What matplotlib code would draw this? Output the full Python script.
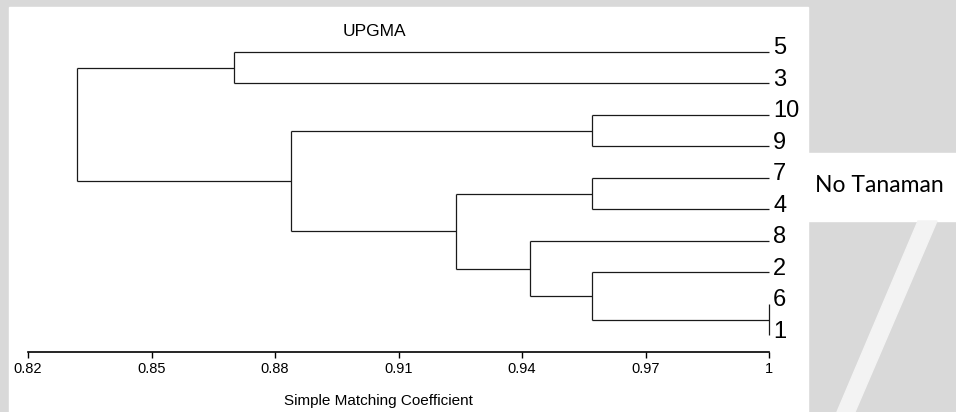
import matplotlib
matplotlib.use("Agg")
import matplotlib.pyplot as plt
from matplotlib.patches import Rectangle, Polygon

# leaves, top to bottom
leaves = ['5', '3', '10', '9', '7', '4', '8', '2', '6', '1']
# UPGMA merges: (left, right, similarity); clusters named by their members
merges = [
    ('6', '1', 1.000),
    ('2', '6+1', 0.957),
    ('8', '2+6+1', 0.942),
    ('7', '4', 0.957),
    ('7+4', '8+2+6+1', 0.924),
    ('10', '9', 0.957),
    ('10+9', '7+4+8+2+6+1', 0.884),
    ('5', '3', 0.870),
    ('5+3', '10+9+7+4+8+2+6+1', 0.832),
]
ticks = [0.82, 0.85, 0.88, 0.91, 0.94, 0.97, 1.0]
tick_labels = ['0.82', '0.85', '0.88', '0.91', '0.94', '0.97', '1']

W, H = 956, 412
fig = plt.figure(figsize=(W / 100, H / 100), dpi=100, facecolor='#d9d9d9')

# white page area + label box (background of the scanned figure)
fig.add_artist(Rectangle((9 / W, 0), (808 - 9) / W, (412 - 7) / H,
                         transform=fig.transFigure, color='white', zorder=0))
fig.add_artist(Rectangle((808 / W, (412 - 221) / H), (956 - 808) / W, 68 / H,
                         transform=fig.transFigure, color='white', zorder=0))
fig.add_artist(Polygon([(918 / W, (412 - 221) / H), (937 / W, (412 - 221) / H),
                        (855 / W, 0), (837 / W, 0)],
                       closed=True, transform=fig.transFigure,
                       color='#f3f3f3', zorder=0))

ax = fig.add_axes([28 / W, 60 / H, (769 - 28) / W, (352 - 36.25) / H])
ax.set_facecolor('none')

# node positions: x = similarity, y = position
ypos = {name: len(leaves) - 1 - i for i, name in enumerate(leaves)}
xpos = {name: 1.0 for name in leaves}
lc = '#1a1a1a'
lw = 0.9
for a, b, h in merges:
    for n in (a, b):
        ax.plot([h, xpos[n]], [ypos[n], ypos[n]], color=lc, lw=lw,
                solid_capstyle='butt', clip_on=False)
    ax.plot([h, h], [ypos[a], ypos[b]], color=lc, lw=lw,
            solid_capstyle='butt', clip_on=False)
    new = a + '+' + b
    ypos[new] = (ypos[a] + ypos[b]) / 2
    xpos[new] = h

for name in leaves:
    ax.text(1.0 + 0.0010, ypos[name] + 0.12, name, fontsize=17,
            family='Liberation Sans', ha='left', va='center', clip_on=False)

ax.set_xlim(0.82, 1.0)
ax.set_ylim(-0.524, 9.5)
ax.set_xticks(ticks)
ax.set_xticklabels(tick_labels, family='Liberation Sans', fontsize=10.5)
ax.set_yticks([])
for s in ('top', 'right', 'left'):
    ax.spines[s].set_visible(False)
ax.spines['bottom'].set_linewidth(1.2)
ax.tick_params(axis='x', direction='out', length=4, width=1.0, pad=3)

fig.text(374 / W, 1 - 32 / H, 'UPGMA', family='Liberation Sans', fontsize=12.5,
         ha='center', va='center')
fig.text(378 / W, 1 - 401 / H, 'Simple Matching Coefficient',
         family='Liberation Sans', fontsize=11, ha='center', va='center')
fig.text(815 / W, 1 - 185 / H, 'No Tanaman', family='Lato', fontsize=16.5,
         ha='left', va='center')

fig.savefig('out.png', dpi=100, facecolor=fig.get_facecolor())
